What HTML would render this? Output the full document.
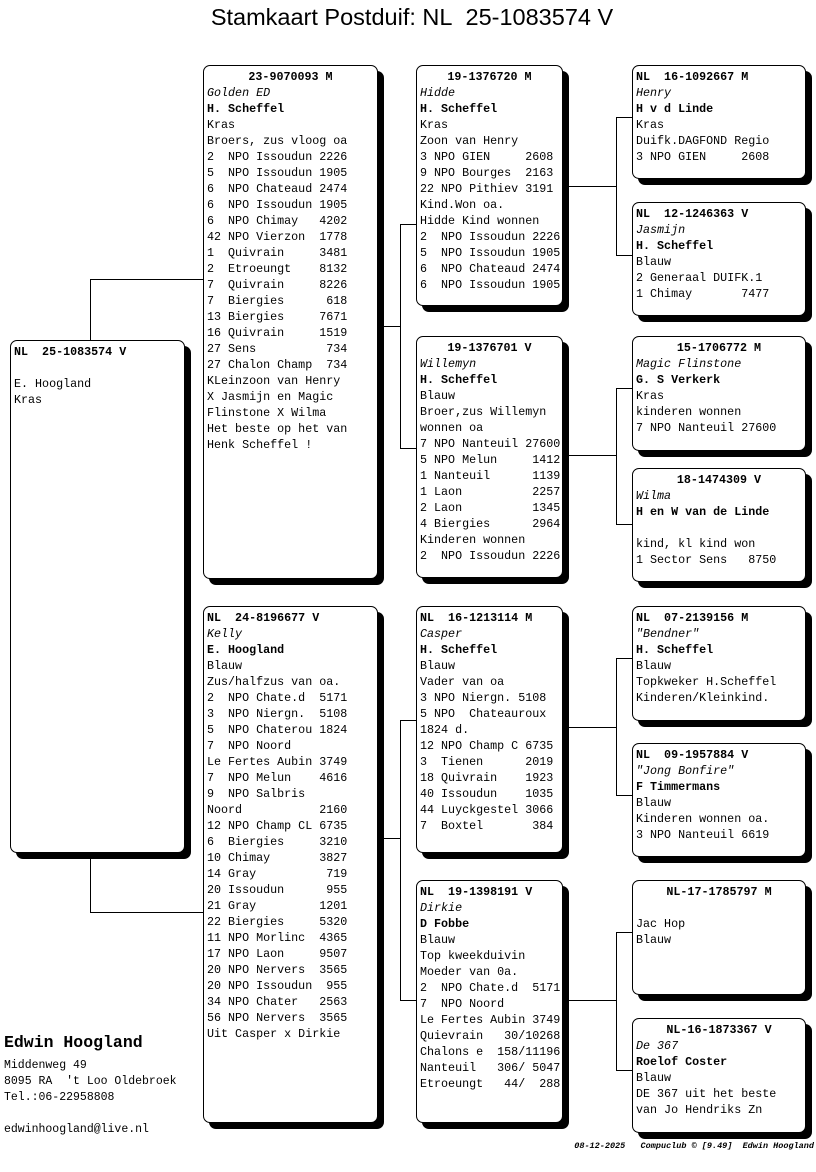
<!DOCTYPE html>
<html><head><meta charset="utf-8">
<style>
*{margin:0;padding:0;box-sizing:border-box}
body{width:816px;height:1172px;background:#fff;position:relative;overflow:hidden;font-family:"Liberation Mono","DejaVu Sans Mono",monospace;color:#000}
.t{position:absolute;left:0;width:824px;top:4px;text-align:center;font-family:"Liberation Sans",sans-serif;font-size:23.5px}
.b{position:absolute;border:1px solid #000;border-radius:7px;background:#fff;box-shadow:6px 6px 0 #000;padding:3px 0 0 3px;font-size:11.7px;line-height:16px;white-space:pre;overflow:hidden}
.h{font-weight:bold;text-align:center;margin-left:-3px}
.hl{font-weight:bold}
.i{font-style:italic}
.bd{font-weight:bold}
.l{position:absolute;background:#000}
.f{position:absolute;font-size:11px;line-height:16px;white-space:pre}
</style></head><body>
<div class="t">Stamkaart Postduif: NL&nbsp; 25-1083574 V</div>

<!-- connectors -->
<div class="l" style="left:90px;top:279px;width:1px;height:61px"></div>
<div class="l" style="left:90px;top:279px;width:113px;height:1px"></div>
<div class="l" style="left:90px;top:858px;width:1px;height:54px"></div>
<div class="l" style="left:90px;top:912px;width:113px;height:1px"></div>

<div class="l" style="left:383px;top:326px;width:17px;height:1px"></div>
<div class="l" style="left:400px;top:224px;width:1px;height:225px"></div>
<div class="l" style="left:400px;top:224px;width:16px;height:1px"></div>
<div class="l" style="left:400px;top:448px;width:16px;height:1px"></div>

<div class="l" style="left:383px;top:838px;width:17px;height:1px"></div>
<div class="l" style="left:400px;top:720px;width:1px;height:281px"></div>
<div class="l" style="left:400px;top:720px;width:16px;height:1px"></div>
<div class="l" style="left:400px;top:1000px;width:16px;height:1px"></div>

<div class="l" style="left:568px;top:186px;width:48px;height:1px"></div>
<div class="l" style="left:616px;top:117px;width:1px;height:138px"></div>
<div class="l" style="left:616px;top:117px;width:16px;height:1px"></div>
<div class="l" style="left:616px;top:255px;width:16px;height:1px"></div>

<div class="l" style="left:568px;top:455px;width:48px;height:1px"></div>
<div class="l" style="left:616px;top:388px;width:1px;height:136px"></div>
<div class="l" style="left:616px;top:388px;width:16px;height:1px"></div>
<div class="l" style="left:616px;top:524px;width:16px;height:1px"></div>

<div class="l" style="left:568px;top:727px;width:48px;height:1px"></div>
<div class="l" style="left:616px;top:658px;width:1px;height:137px"></div>
<div class="l" style="left:616px;top:658px;width:16px;height:1px"></div>
<div class="l" style="left:616px;top:795px;width:16px;height:1px"></div>

<div class="l" style="left:568px;top:1000px;width:48px;height:1px"></div>
<div class="l" style="left:616px;top:932px;width:1px;height:138px"></div>
<div class="l" style="left:616px;top:932px;width:16px;height:1px"></div>
<div class="l" style="left:616px;top:1070px;width:16px;height:1px"></div>

<!-- subject -->
<div class="b" style="left:10px;top:340px;width:175px;height:513px"><div class="hl">NL  25-1083574 V</div>
E. Hoogland
Kras</div>

<!-- col2 -->
<div class="b" style="left:203px;top:65px;width:175px;height:514px"><div class="h">23-9070093 M</div><div class="i">Golden ED</div><div class="bd">H. Scheffel</div>Kras
Broers, zus vloog oa
2  NPO Issoudun 2226
5  NPO Issoudun 1905
6  NPO Chateaud 2474
6  NPO Issoudun 1905
6  NPO Chimay   4202
42 NPO Vierzon  1778
1  Quivrain     3481
2  Etroeungt    8132
7  Quivrain     8226
7  Biergies      618
13 Biergies     7671
16 Quivrain     1519
27 Sens          734
27 Chalon Champ  734
KLeinzoon van Henry
X Jasmijn en Magic
Flinstone X Wilma
Het beste op het van
Henk Scheffel !</div>

<div class="b" style="left:203px;top:606px;width:175px;height:517px"><div class="hl">NL  24-8196677 V</div><div class="i">Kelly</div><div class="bd">E. Hoogland</div>Blauw
Zus/halfzus van oa.
2  NPO Chate.d  5171
3  NPO Niergn.  5108
5  NPO Chaterou 1824
7  NPO Noord
Le Fertes Aubin 3749
7  NPO Melun    4616
9  NPO Salbris
Noord           2160
12 NPO Champ CL 6735
6  Biergies     3210
10 Chimay       3827
14 Gray          719
20 Issoudun      955
21 Gray         1201
22 Biergies     5320
11 NPO Morlinc  4365
17 NPO Laon     9507
20 NPO Nervers  3565
20 NPO Issoudun  955
34 NPO Chater   2563
56 NPO Nervers  3565
Uit Casper x Dirkie</div>

<!-- col3 -->
<div class="b" style="left:416px;top:65px;width:147px;height:241px"><div class="h">19-1376720 M</div><div class="i">Hidde</div><div class="bd">H. Scheffel</div>Kras
Zoon van Henry
3 NPO GIEN     2608
9 NPO Bourges  2163
22 NPO Pithiev 3191
Kind.Won oa.
Hidde Kind wonnen
2  NPO Issoudun 2226
5  NPO Issoudun 1905
6  NPO Chateaud 2474
6  NPO Issoudun 1905</div>

<div class="b" style="left:416px;top:336px;width:147px;height:242px"><div class="h">19-1376701 V</div><div class="i">Willemyn</div><div class="bd">H. Scheffel</div>Blauw
Broer,zus Willemyn
wonnen oa
7 NPO Nanteuil 27600
5 NPO Melun     1412
1 Nanteuil      1139
1 Laon          2257
2 Laon          1345
4 Biergies      2964
Kinderen wonnen
2  NPO Issoudun 2226</div>

<div class="b" style="left:416px;top:606px;width:147px;height:247px"><div class="hl">NL  16-1213114 M</div><div class="i">Casper</div><div class="bd">H. Scheffel</div>Blauw
Vader van oa
3 NPO Niergn. 5108
5 NPO  Chateauroux
1824 d.
12 NPO Champ C 6735
3  Tienen      2019
18 Quivrain    1923
40 Issoudun    1035
44 Luyckgestel 3066
7  Boxtel       384</div>

<div class="b" style="left:416px;top:880px;width:147px;height:243px"><div class="hl">NL  19-1398191 V</div><div class="i">Dirkie</div><div class="bd">D Fobbe</div>Blauw
Top kweekduivin
Moeder van 0a.
2  NPO Chate.d  5171
7  NPO Noord
Le Fertes Aubin 3749
Quievrain   30/10268
Chalons e  158/11196
Nanteuil   306/ 5047
Etroeungt   44/  288</div>

<!-- col4 -->
<div class="b" style="left:632px;top:65px;width:174px;height:114px"><div class="hl">NL  16-1092667 M</div><div class="i">Henry</div><div class="bd">H v d Linde</div>Kras
Duifk.DAGFOND Regio
3 NPO GIEN     2608</div>

<div class="b" style="left:632px;top:202px;width:174px;height:114px"><div class="hl">NL  12-1246363 V</div><div class="i">Jasmijn</div><div class="bd">H. Scheffel</div>Blauw
2 Generaal DUIFK.1
1 Chimay       7477</div>

<div class="b" style="left:632px;top:336px;width:174px;height:115px"><div class="h">15-1706772 M</div><div class="i">Magic Flinstone</div><div class="bd">G. S Verkerk</div>Kras
kinderen wonnen
7 NPO Nanteuil 27600</div>

<div class="b" style="left:632px;top:468px;width:174px;height:114px"><div class="h">18-1474309 V</div><div class="i">Wilma</div><div class="bd">H en W van de Linde</div>
kind, kl kind won
1 Sector Sens   8750</div>

<div class="b" style="left:632px;top:606px;width:174px;height:115px"><div class="hl">NL  07-2139156 M</div><div class="i">"Bendner"</div><div class="bd">H. Scheffel</div>Blauw
Topkweker H.Scheffel
Kinderen/Kleinkind.</div>

<div class="b" style="left:632px;top:743px;width:174px;height:114px"><div class="hl">NL  09-1957884 V</div><div class="i">"Jong Bonfire"</div><div class="bd">F Timmermans</div>Blauw
Kinderen wonnen oa.
3 NPO Nanteuil 6619</div>

<div class="b" style="left:632px;top:880px;width:174px;height:115px"><div class="h">NL-17-1785797 M</div>
Jac Hop
Blauw</div>

<div class="b" style="left:632px;top:1018px;width:174px;height:115px"><div class="h">NL-16-1873367 V</div><div class="i">De 367</div><div class="bd">Roelof Coster</div>Blauw
DE 367 uit het beste
van Jo Hendriks Zn</div>

<!-- footer -->
<div class="f" style="left:4px;top:1034px;font-size:16.5px;font-weight:bold;line-height:18px">Edwin Hoogland</div>
<div class="f" style="left:4px;top:1058px;font-size:11.5px">Middenweg 49
8095 RA  't Loo Oldebroek
Tel.:06-22958808

edwinhoogland@live.nl</div>
<div class="f" style="right:2px;top:1138px;font-size:8.5px;font-style:italic;font-weight:bold">08-12-2025   Compuclub © [9.49]  Edwin Hoogland</div>
</body></html>
